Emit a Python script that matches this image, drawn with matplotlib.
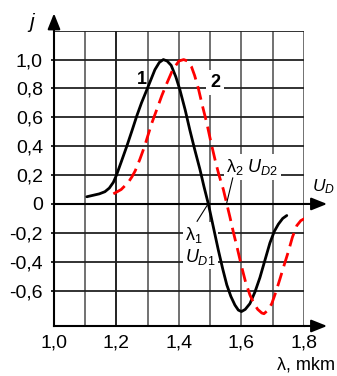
import matplotlib
matplotlib.use("Agg")
import matplotlib.pyplot as plt

plt.rcParams['font.family'] = ['Liberation Sans', 'DejaVu Sans']
plt.rcParams['mathtext.fontset'] = 'custom'
plt.rcParams['mathtext.rm'] = 'Liberation Sans'
plt.rcParams['mathtext.it'] = 'Liberation Sans:italic'
plt.rcParams['mathtext.bf'] = 'Liberation Sans:bold'

# Curve 1 (solid black)
lam1 = [1.105, 1.125, 1.145, 1.163, 1.177, 1.19, 1.20, 1.215, 1.233, 1.25, 1.265, 1.28,
        1.297, 1.31, 1.323, 1.337, 1.35, 1.362, 1.375, 1.39, 1.403, 1.42, 1.435, 1.45,
        1.467, 1.48, 1.494, 1.51, 1.526, 1.54, 1.553, 1.566, 1.579, 1.59, 1.60, 1.612,
        1.627, 1.643, 1.659, 1.675, 1.691, 1.705, 1.718, 1.732, 1.745]
j1 = [0.05, 0.06, 0.07, 0.085, 0.11, 0.15, 0.20, 0.29, 0.40, 0.51, 0.61, 0.70,
      0.79, 0.86, 0.93, 0.98, 1.00, 0.99, 0.96, 0.88, 0.79, 0.65, 0.51, 0.38,
      0.24, 0.12, 0.0, -0.16, -0.32, -0.45, -0.56, -0.64, -0.70, -0.735, -0.745, -0.73,
      -0.69, -0.61, -0.51, -0.39, -0.27, -0.19, -0.14, -0.10, -0.08]

# Curve 2 (dashed red)
lam2 = [1.19, 1.215, 1.238, 1.25, 1.26, 1.275, 1.29, 1.30, 1.313, 1.33, 1.345, 1.36,
        1.38, 1.40, 1.415, 1.427, 1.44, 1.45, 1.462, 1.475, 1.489, 1.502, 1.515, 1.528,
        1.542, 1.553, 1.563, 1.574, 1.587, 1.60, 1.613, 1.627, 1.64, 1.652, 1.665, 1.672,
        1.685, 1.697, 1.71, 1.723, 1.737, 1.75, 1.763, 1.777, 1.79, 1.803]
j2 = [0.07, 0.10, 0.15, 0.19, 0.23, 0.31, 0.40, 0.47, 0.56, 0.66, 0.75, 0.83,
      0.93, 0.99, 1.00, 0.99, 0.95, 0.89, 0.80, 0.68, 0.56, 0.43, 0.31, 0.20,
      0.10, 0.0, -0.09, -0.195, -0.31, -0.43, -0.54, -0.63, -0.69, -0.73, -0.755, -0.76,
      -0.735, -0.69, -0.61, -0.52, -0.42, -0.33, -0.23, -0.15, -0.115, -0.10]

xticks = [1.0, 1.2, 1.4, 1.6, 1.8]
xticklabels = ["1,0", "1,2", "1,4", "1,6", "1,8"]
yticks = [-0.6, -0.4, -0.2, 0.0, 0.2, 0.4, 0.6, 0.8, 1.0]
yticklabels = ["-0,6", "-0,4", "-0,2", "0", "0,2", "0,4", "0,6", "0,8", "1,0"]
xgrid = [1.1, 1.2, 1.3, 1.4, 1.5, 1.6, 1.7, 1.8]
ygrid = [-0.6, -0.4, -0.2, 0.2, 0.4, 0.6, 0.8, 1.0, 1.2]

fig = plt.figure(figsize=(3.37, 3.76), dpi=100)
ax = fig.add_axes([0.1602, 0.1330, 0.7418, 0.7854])
ax.set_xlim(1.0, 1.8)
ax.set_ylim(-0.845, 1.2)

for s in ['top', 'right']:
    ax.spines[s].set_visible(False)
ax.spines['left'].set_linewidth(1.5)
ax.spines['bottom'].set_linewidth(1.5)

for x in xgrid:
    c = '#111111' if abs(x - 1.2) < 1e-6 else '#666666'
    ax.axvline(x, color=c, lw=1.3, zorder=1)
for y in ygrid:
    ax.axhline(y, color='#222222', lw=1.3, zorder=1)
ax.axhline(0, color='black', lw=1.5, zorder=1)

ax.set_xticks(xticks)
ax.set_xticklabels(xticklabels, fontsize=14)
ax.set_yticks(yticks)
ax.set_yticklabels(yticklabels, fontsize=14)
ax.tick_params(axis='y', length=2, pad=6, width=1.2)
ax.tick_params(axis='x', length=0, pad=6)

ax.plot(lam1, j1, color='black', lw=2.0, zorder=4, solid_capstyle='round')
ax.plot(lam2, j2, color='#ff0000', lw=2.0, zorder=4, linestyle=(0, (5, 2.5)))

# axis arrows
arr = dict(arrowstyle='-|>,head_length=0.95,head_width=0.38', color='black',
           lw=1.5, shrinkA=0, shrinkB=0, mutation_scale=10)
ax.annotate('', xy=(1.0, 1.32), xytext=(1.0, 1.2), arrowprops=arr, annotation_clip=False)
ax.annotate('', xy=(1.874, -0.845), xytext=(1.8, -0.845), arrowprops=arr, annotation_clip=False)
ax.annotate('', xy=(1.874, 0.0), xytext=(1.8, 0.0), arrowprops=arr, annotation_clip=False)

ax.text(0.93, 1.255, 'j', fontsize=15, style='italic', ha='center', va='center',
        clip_on=False)
ax.text(1.827, 0.12, '$U_D$', fontsize=12.5, ha='left', va='center', clip_on=False)
fig.text(0.995, 0.03, 'λ, mkm', fontsize=13, ha='right', va='center')

ax.text(1.282, 0.86, '1', fontsize=13, fontweight='bold', ha='center', va='center', zorder=5)
ax.text(1.515, 0.84, '2', fontsize=13, fontweight='bold', ha='center', va='center', zorder=3,
        bbox=dict(facecolor='white', edgecolor='none', pad=3))

# label 2
ax.text(1.552, 0.255, 'λ$_2$ $U_{D2}$', fontsize=13, ha='left', va='center', zorder=3,
        bbox=dict(facecolor='white', edgecolor='none', pad=2))
ax.plot([1.572, 1.552], [0.18, 0.0], color='black', lw=0.8, zorder=5)

# label 1
ax.text(1.42, -0.29, 'λ$_1$\n$U_{D1}$', fontsize=13, ha='left', va='center', zorder=3,
        linespacing=1.1,
        bbox=dict(facecolor='white', edgecolor='none', pad=2))
ax.plot([1.458, 1.49], [-0.12, -0.01], color='black', lw=0.8, zorder=5)

fig.savefig('out.png', dpi=100)
